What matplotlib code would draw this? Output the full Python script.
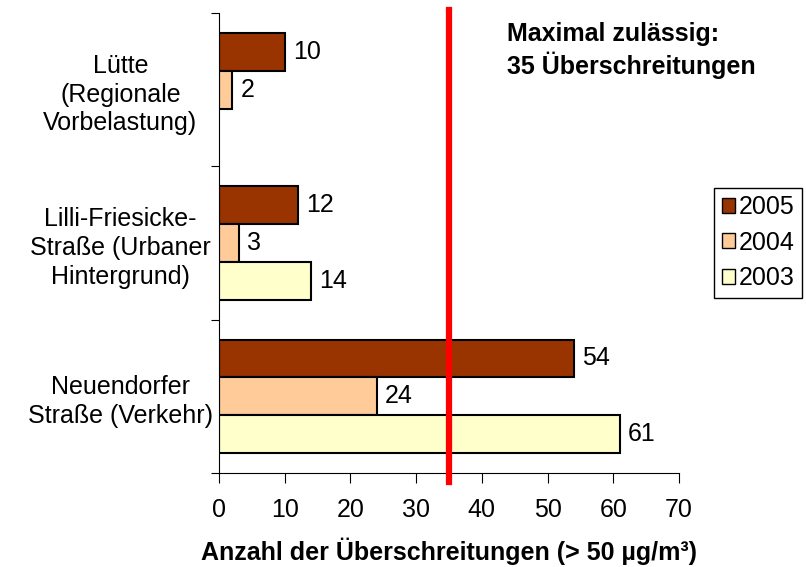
import matplotlib
matplotlib.use('Agg')
import matplotlib.pyplot as plt
import numpy as np

plt.rcParams['font.family'] = ['Liberation Sans', 'DejaVu Sans']

categories = ['Lütte\n(Regionale\nVorbelastung)',
              'Lilli-Friesicke-\nStraße (Urbaner\nHintergrund)',
              'Neuendorfer\nStraße (Verkehr)']
years = ['2005', '2004', '2003']
values_2005 = [10, 12, 54]
values_2004 = [2, 3, 24]
values_2003 = [None, 14, 61]
colors = ['#993300', '#FFCC99', '#FFFFCC']
limit = 35

fig = plt.figure(figsize=(8.06, 5.67), dpi=100)
ax = fig.add_axes([219/806, 1-473/567, 460/806, 460/567])

y = np.arange(len(categories))
h = 0.247
handles = []
for i, (vals, col, yr) in enumerate(zip([values_2005, values_2004, values_2003], colors, years)):
    off = (i - 1) * h
    for yy, v in zip(y, vals):
        if v is None:
            continue
        ax.barh(yy + off, v, height=h, color=col, edgecolor='black', linewidth=1.5)
        ax.annotate(str(v), (v, yy + off), xytext=(6, 0), textcoords='offset points',
                    va='center', ha='left', fontsize=18)
    handles.append(plt.Rectangle((0, 0), 1, 1, facecolor=col, edgecolor='black', linewidth=1, label=yr))

ax.set_ylim(2.5, -0.5)
ax.set_xlim(0, 70)
ax.set_xticks(range(0, 71, 10))
ax.tick_params(axis='x', labelsize=18, length=7, pad=11)
ax.set_yticks([-0.5, 0.5, 1.5, 2.5])
ax.set_yticklabels([])
ax.tick_params(axis='y', length=6)
ax.set_yticks(y, minor=True)
ax.set_yticklabels(categories, minor=True, fontsize=18, ha='center', linespacing=1.25)
ax.tick_params(axis='y', which='minor', length=0, pad=71)
for s in ['top', 'right']:
    ax.spines[s].set_visible(False)

ax.axvline(limit, ymin=-0.02, ymax=1.007, color='#FF0000', linewidth=4.5, clip_on=False, zorder=5)
ax.text(0.626, 0.98, 'Maximal zulässig:\n35 Überschreitungen', transform=ax.transAxes,
        fontsize=18, fontweight='bold', va='top', ha='left', linespacing=1.25)

ax.set_xlabel('Anzahl der Überschreitungen (> 50 µg/m³)', fontsize=18, fontweight='bold', labelpad=11)

leg = fig.legend(handles=handles, loc='upper left', bbox_to_anchor=(714/806, 1-188/567),
                 fontsize=18, frameon=True, fancybox=False, edgecolor='black', framealpha=1,
                 handlelength=0.55, handleheight=0.55, handletextpad=0.15, borderpad=0.3,
                 labelspacing=0.45, borderaxespad=0)
leg.get_frame().set_linewidth(1)

fig.savefig('out.png', dpi=100)
